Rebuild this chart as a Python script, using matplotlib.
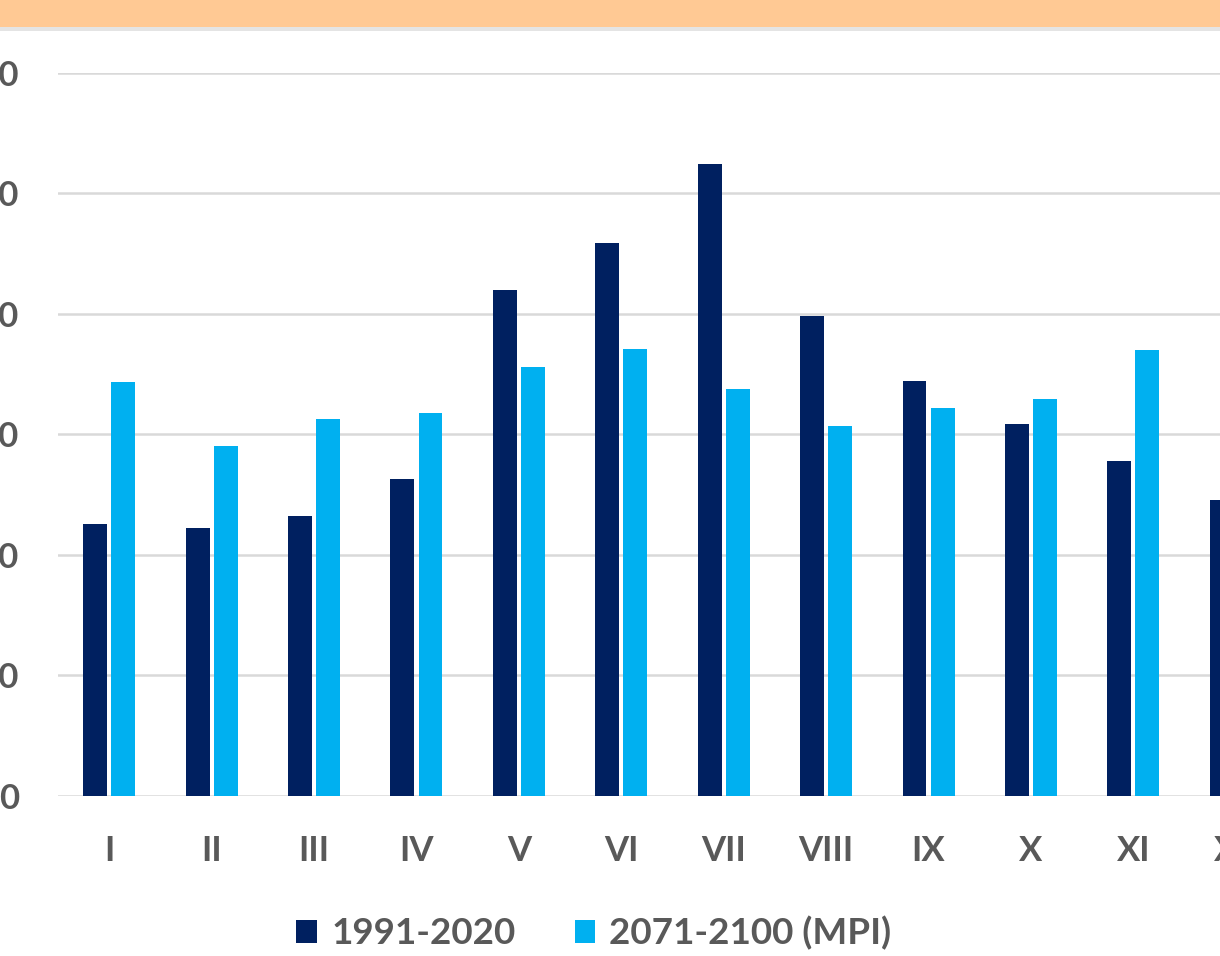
import numpy as np
import matplotlib.pyplot as plt
from matplotlib.patches import Rectangle

# monthly values (axis step 20, only the last digit of the labels is visible)
months = ['I', 'II', 'III', 'IV', 'V', 'VI', 'VII', 'VIII', 'IX', 'X', 'XI', 'XII']
obs_1991_2020 = [45.1, 44.5, 46.5, 52.6, 84.0, 91.8, 104.9, 79.7, 68.8, 61.7, 55.6, 49.1]
mpi_2071_2100 = [68.7, 58.1, 62.6, 63.6, 71.2, 74.2, 67.6, 61.4, 64.3, 65.9, 74.0, 66.0]
y_ticks = [0, 20, 40, 60, 80, 100, 120]

DARK = '#002060'
LIGHT = '#00B0F0'
TXT = '#595959'
GRID = '#D9D9D9'

plt.rcParams['font.family'] = ['Lato', 'DejaVu Sans']

W, H = 1220, 956
fig = plt.figure(figsize=(W / 100, H / 100), dpi=100)

# orange band on top with a faint shadow under it
fig.patches.append(Rectangle((0, 1 - 27 / H), 1, 27 / H, transform=fig.transFigure,
                             facecolor='#FFC994', edgecolor='none', zorder=0))
fig.patches.append(Rectangle((0, 1 - 31 / H), 1, 4 / H, transform=fig.transFigure,
                             facecolor='#E4E4E4', edgecolor='none', zorder=0))

ax = fig.add_axes([58 / W, 160 / H, 1229 / W, (796 - 72.7) / H])

x = np.arange(len(months))
bw = 0.234
off = 0.137
ax.bar(x - off, obs_1991_2020, width=bw, color=DARK, label='1991-2020', zorder=3)
ax.bar(x + off, mpi_2071_2100, width=bw, color=LIGHT, label='2071-2100 (MPI)', zorder=3)

ax.set_xlim(-0.5, len(months) - 0.5)
ax.set_ylim(0, 120)
ax.set_yticks(y_ticks)
ax.set_xticks(x)
ax.set_xticklabels(months)

ax.grid(axis='y', color=GRID, lw=1.8, zorder=0)
ax.set_axisbelow(True)
for s in ax.spines.values():
    s.set_visible(False)

ax.tick_params(axis='both', length=0, labelsize=25, labelcolor=TXT)
ax.tick_params(axis='y', pad=28)
ax.tick_params(axis='x', pad=28)
for lab in ax.get_xticklabels() + ax.get_yticklabels():
    lab.set_fontweight('bold')

leg = fig.legend(loc='center', bbox_to_anchor=(594 / W, 1 - 933 / H), ncol=2,
                 frameon=False, fontsize=26.5, handlelength=0.55, handleheight=0.6,
                 handletextpad=0.4, columnspacing=1.6)
for t in leg.get_texts():
    t.set_color(TXT)
    t.set_fontweight('bold')

fig.savefig('out.png', dpi=100)
